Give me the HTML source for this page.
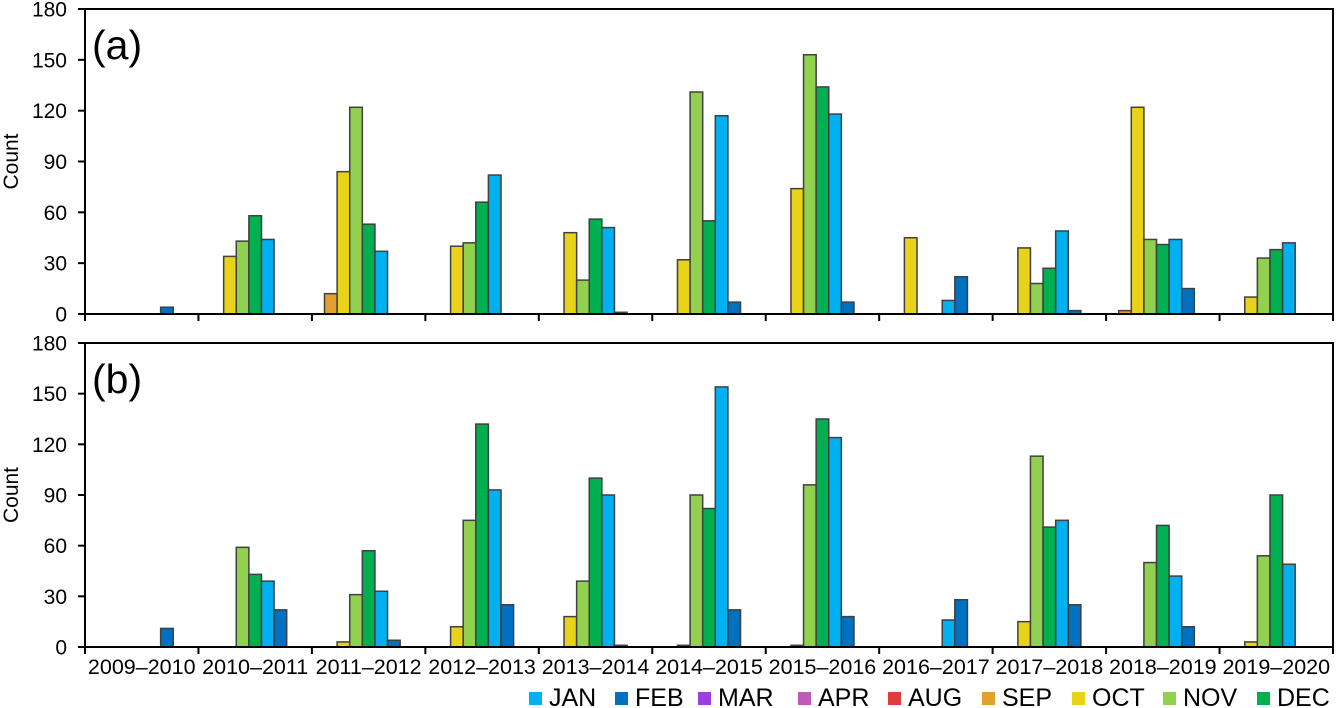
<!DOCTYPE html>
<html><head><meta charset="utf-8">
<style>
html,body{margin:0;padding:0;background:#fff;}
svg{display:block;font-family:"Liberation Sans",Arial,sans-serif;}
</style></head>
<body>
<svg id="chart" width="1336" height="708" viewBox="0 0 1336 708"></svg>
<script>
const seasons=["2009–2010","2010–2011","2011–2012","2012–2013","2013–2014","2014–2015","2015–2016","2016–2017","2017–2018","2018–2019","2019–2020"];
const months=["AUG","SEP","OCT","NOV","DEC","JAN","FEB","MAR","APR"];
const legendOrder=["JAN","FEB","MAR","APR","AUG","SEP","OCT","NOV","DEC"];
const yTicks=[0,30,60,90,120,150,180];
// values per season: [AUG,SEP,OCT,NOV,DEC,JAN,FEB,MAR,APR]
const dataA=[
[0,0,0,0,0,0,4,0,0],
[0,0,34,43,58,44,0,0,0],
[0,12,84,122,53,37,0,0,0],
[0,0,40,42,66,82,0,0,0],
[0,0,48,20,56,51,1,0,0],
[0,0,32,131,55,117,7,0,0],
[0,0,74,153,134,118,7,0,0],
[0,0,45,0,0,8,22,0,0],
[0,0,39,18,27,49,2,0,0],
[0,2,122,44,41,44,15,0,0],
[0,0,10,33,38,42,0,0,0]];
const dataB=[
[0,0,0,0,0,0,11,0,0],
[0,0,0,59,43,39,22,0,0],
[0,0,3,31,57,33,4,0,0],
[0,0,12,75,132,93,25,0,0],
[0,0,18,39,100,90,1,0,0],
[0,0,1,90,82,154,22,0,0],
[0,0,1,96,135,124,18,0,0],
[0,0,0,0,0,16,28,0,0],
[0,0,15,113,71,75,25,0,0],
[0,0,0,50,72,42,12,0,0],
[0,0,3,54,90,49,0,0,0]];
const colors={JAN:"#00b0f0",FEB:"#0070c0",MAR:"#9b3fe0",APR:"#c05ab8",AUG:"#e03c3c",SEP:"#e2a12e",OCT:"#e8d21a",NOV:"#92d050",DEC:"#00b050"};

const NS="http://www.w3.org/2000/svg";
const svg=document.getElementById("chart");
const X0=85,X1=1333;
const gw=(X1-X0)/seasons.length, bw=gw/months.length;
function mk(tag,attrs,parent){const e=document.createElementNS(NS,tag);for(const k in attrs)e.setAttribute(k,attrs[k]);(parent||svg).appendChild(e);return e;}

function panel(data,top,bottom,label,key){
  const g=mk("g",{});
  
  
  const y=v=>bottom-(v/180)*(bottom-top);
  const x=i=>X0+i*gw;
  yTicks.forEach(t=>{
    mk("line",{x1:X0-7,x2:X0,y1:y(t),y2:y(t),stroke:"#000","stroke-width":2},g);
    const tx=mk("text",{x:67,y:y(t)+7.5,"text-anchor":"end","font-size":21,fill:"#000"},g);
    tx.textContent=t;
    
    
  });
  for(let i=0;i<=seasons.length;i++){
    mk("line",{x1:x(i),x2:x(i),y1:bottom,y2:bottom+7,stroke:"#000","stroke-width":2},g);
  }
  data.forEach((row,si)=>{
    row.forEach((v,mi)=>{
      if(v<=0)return;
      const r=mk("rect",{x:x(si)+mi*bw,y:y(v),width:bw,height:bottom-y(v),fill:colors[months[mi]],stroke:"#404040","stroke-width":1.5},g);
      
      
    });
  });
  mk("rect",{x:X0,y:top,width:X1-X0,height:bottom-top,fill:"none",stroke:"#000","stroke-width":2},g);
  const lt=mk("text",{x:92,y:top+50,"font-size":41,fill:"#000"},g);
  lt.textContent=label;
  
  
  const yt=mk("text",{transform:`translate(18,${(top+bottom)/2}) rotate(-90)`,"text-anchor":"middle","font-size":21,fill:"#000"},g);
  yt.textContent="Count";
  
  
  return {x};
}
panel(dataA,9,314,"(a)","a");
const pb=panel(dataB,343,647,"(b)","b");
seasons.forEach((s,i)=>{
  const t=mk("text",{x:pb.x(i)+gw/2,y:674,"text-anchor":"middle","font-size":21.5,fill:"#000"});
  t.textContent=s;
  
  
});
const legX=[529,615,698,798,888,982,1072,1163,1257];
legendOrder.forEach((m,i)=>{
  const lg=mk("g",{});
  
  
  mk("rect",{x:legX[i],y:692,width:13,height:13,fill:colors[m]},lg);
  const t=mk("text",{x:legX[i]+20,y:706,"font-size":25,fill:"#000"},lg);
  t.textContent=m;
});
</script>
</body></html>
